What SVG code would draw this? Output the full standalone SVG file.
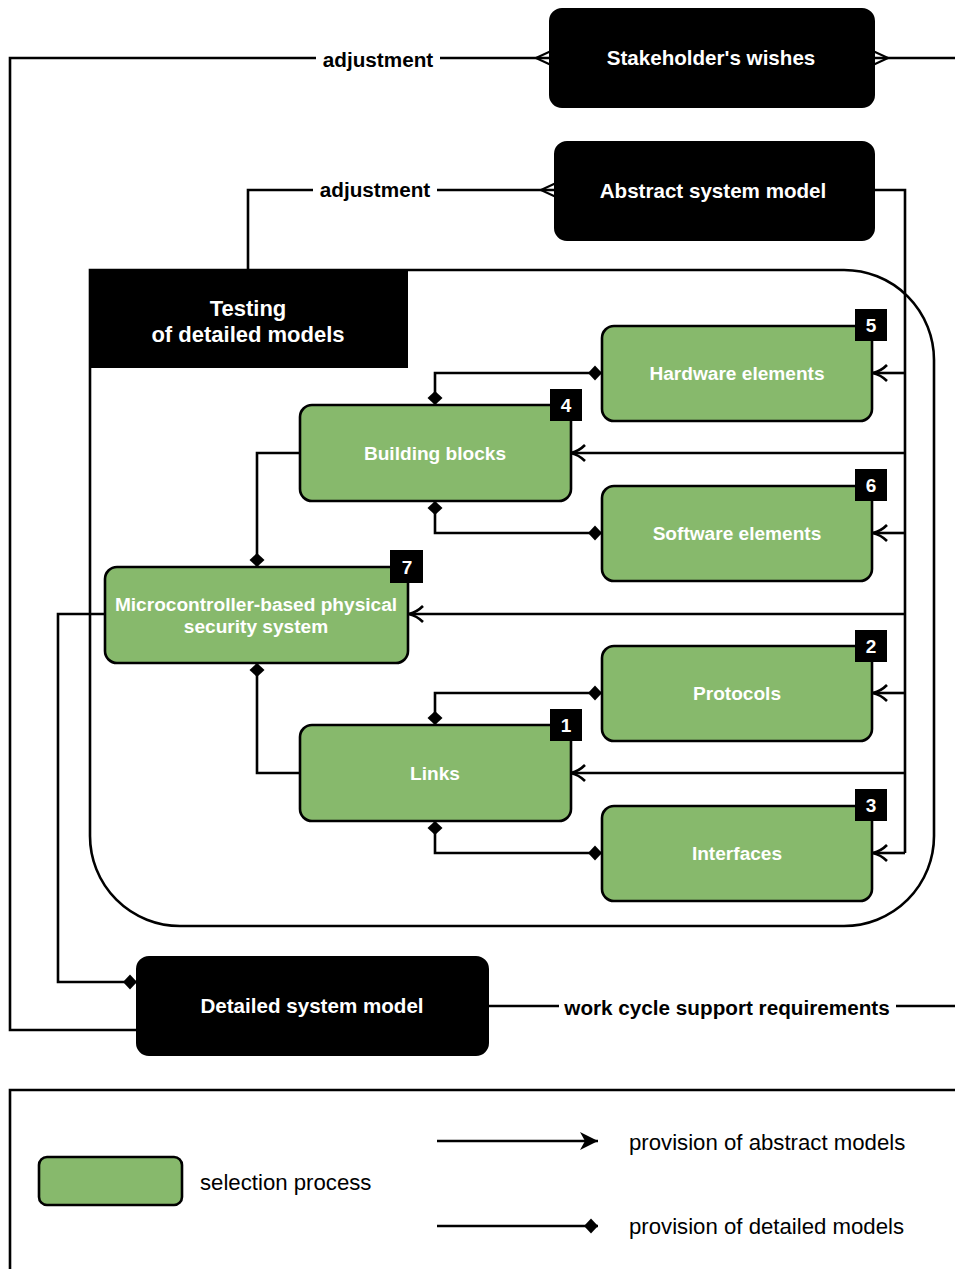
<svg xmlns="http://www.w3.org/2000/svg" width="955" height="1269" viewBox="0 0 955 1269">
<style>
.line{fill:none;stroke:#000;stroke-width:2.6}
.blk{fill:#000;stroke:#000;stroke-width:2}
.grn{fill:#87b96c;stroke:#000;stroke-width:2.6}
.wt{font-family:"Liberation Sans",Arial,sans-serif;font-weight:bold;fill:#fff;text-anchor:middle}
.bt{font-family:"Liberation Sans",Arial,sans-serif;font-weight:bold;fill:#000;text-anchor:middle;font-size:20.7px}
.lt{font-family:"Liberation Sans",Arial,sans-serif;fill:#000;font-size:22.2px}
.b20{font-size:20.6px}
.t22{font-size:22px}
.g19{font-size:19.1px}
.num{font-size:19px}
.badge{fill:#000}
</style>
<defs>
<marker id="arr" viewBox="0 0 20 20" refX="18" refY="10" markerWidth="20" markerHeight="20" orient="auto" markerUnits="userSpaceOnUse">
<path d="M4,2 Q10,8 18,10 Q10,12 4,18" fill="none" stroke="#000" stroke-width="2.6"/>
</marker>
<marker id="arrf" viewBox="0 0 22 22" refX="21" refY="11" markerWidth="22" markerHeight="22" orient="auto" markerUnits="userSpaceOnUse">
<path d="M3,2 L21,11 L3,20 L8,11 Z" fill="#000"/>
</marker>
<marker id="dia" viewBox="0 0 16 16" refX="15" refY="8" markerWidth="16" markerHeight="16" orient="auto-start-reverse" markerUnits="userSpaceOnUse">
<path d="M1,8 L8,0.5 L15,8 L8,15.5 Z" fill="#000"/>
</marker>
<marker id="crow" viewBox="0 0 16 16" refX="15" refY="8" markerWidth="16" markerHeight="16" orient="auto" markerUnits="userSpaceOnUse">
<path d="M1,8 L15,1.5 M1,8 L15,14.5" fill="none" stroke="#000" stroke-width="2"/>
</marker>
</defs>

<g id="container">
<path class="line" d="M90,270 H844 A90,90 0 0 1 934,360 V836 A90,90 0 0 1 844,926 H180 A90,90 0 0 1 90,836 Z"/>
</g>

<g id="connectors">
<path class="line" d="M137,1030 H10 V58 H550" marker-end="url(#crow)"/>
<path class="line" d="M955,58 H874" marker-end="url(#crow)"/>
<path class="line" d="M248,270 V190 H555" marker-end="url(#crow)"/>
<path class="line" d="M874,190 H905 V853"/>
<path class="line" d="M905,373 H873" marker-end="url(#arr)"/>
<path class="line" d="M905,453 H571" marker-end="url(#arr)"/>
<path class="line" d="M905,533 H873" marker-end="url(#arr)"/>
<path class="line" d="M905,614 H409" marker-end="url(#arr)"/>
<path class="line" d="M905,693 H873" marker-end="url(#arr)"/>
<path class="line" d="M905,773 H571" marker-end="url(#arr)"/>
<path class="line" d="M905,853 H873" marker-end="url(#arr)"/>
<path class="line" d="M435,405 V373 H602" marker-start="url(#dia)" marker-end="url(#dia)"/>
<path class="line" d="M435,501 V533 H602" marker-start="url(#dia)" marker-end="url(#dia)"/>
<path class="line" d="M300,453 H257 V567" marker-end="url(#dia)"/>
<path class="line" d="M300,773 H257 V663" marker-end="url(#dia)"/>
<path class="line" d="M435,725 V693 H602" marker-start="url(#dia)" marker-end="url(#dia)"/>
<path class="line" d="M435,821 V853 H602" marker-start="url(#dia)" marker-end="url(#dia)"/>
<path class="line" d="M105,614 H58 V982 H137" marker-end="url(#dia)"/>
<path class="line" d="M488,1006 H955"/>
<rect x="316" y="46" width="124" height="26" fill="#fff"/>
<text class="bt" x="378" y="67">adjustment</text>
<rect x="313" y="176" width="124" height="26" fill="#fff"/>
<text class="bt" x="375" y="197">adjustment</text>
<rect x="559" y="994" width="337" height="26" fill="#fff"/>
<text class="bt" x="727" y="1015">work cycle support requirements</text>
</g>

<g id="stakeholder">
<rect class="blk" x="550" y="9" width="324" height="98" rx="12"/>
<text class="wt b20" x="711" y="65">Stakeholder's wishes</text>
</g>
<g id="abstract">
<rect class="blk" x="555" y="142" width="319" height="98" rx="12"/>
<text class="wt b20" x="713" y="198">Abstract system model</text>
</g>
<g id="testing">
<rect x="90" y="270" width="318" height="98" fill="#000"/>
<text class="wt t22" x="248" y="316">Testing</text>
<text class="wt t22" x="248" y="342">of detailed models</text>
</g>

<g id="hardware">
<rect class="grn" x="602" y="326" width="270" height="95" rx="12"/>
<text class="wt g19" x="737" y="380">Hardware elements</text>
<rect class="badge" x="855" y="309" width="32" height="32"/>
<text class="wt num" x="871" y="332">5</text>
</g>
<g id="building">
<rect class="grn" x="300" y="405" width="271" height="96" rx="12"/>
<text class="wt g19" x="435" y="460">Building blocks</text>
<rect class="badge" x="550" y="389" width="32" height="32"/>
<text class="wt num" x="566" y="412">4</text>
</g>
<g id="software">
<rect class="grn" x="602" y="486" width="270" height="95" rx="12"/>
<text class="wt g19" x="737" y="540">Software elements</text>
<rect class="badge" x="855" y="469" width="32" height="32"/>
<text class="wt num" x="871" y="492">6</text>
</g>
<g id="micro">
<rect class="grn" x="105" y="567" width="303" height="96" rx="12"/>
<text class="wt g19" x="256" y="611">Microcontroller-based physical</text>
<text class="wt g19" x="256" y="633">security system</text>
<rect class="badge" x="390" y="550" width="33" height="33"/>
<text class="wt num" x="407" y="574">7</text>
</g>
<g id="protocols">
<rect class="grn" x="602" y="646" width="270" height="95" rx="12"/>
<text class="wt g19" x="737" y="700">Protocols</text>
<rect class="badge" x="855" y="630" width="32" height="32"/>
<text class="wt num" x="871" y="653">2</text>
</g>
<g id="links">
<rect class="grn" x="300" y="725" width="271" height="96" rx="12"/>
<text class="wt g19" x="435" y="780">Links</text>
<rect class="badge" x="550" y="709" width="32" height="32"/>
<text class="wt num" x="566" y="732">1</text>
</g>
<g id="interfaces">
<rect class="grn" x="602" y="806" width="270" height="95" rx="12"/>
<text class="wt g19" x="737" y="860">Interfaces</text>
<rect class="badge" x="855" y="789" width="32" height="32"/>
<text class="wt num" x="871" y="812">3</text>
</g>
<g id="detailed">
<rect class="blk" x="137" y="957" width="351" height="98" rx="12"/>
<text class="wt b20" x="312" y="1013">Detailed system model</text>
</g>

<g id="legend">
<path class="line" d="M955,1090 H10 V1269"/>
<rect class="grn" x="39" y="1157" width="143" height="48" rx="8"/>
<text class="lt" x="200" y="1190">selection process</text>
<path class="line" d="M437,1141 H598" marker-end="url(#arrf)"/>
<text class="lt" x="629" y="1150">provision of abstract models</text>
<path class="line" d="M437,1226 H598" marker-end="url(#dia)"/>
<text class="lt" x="629" y="1234">provision of detailed models</text>
</g>
</svg>
